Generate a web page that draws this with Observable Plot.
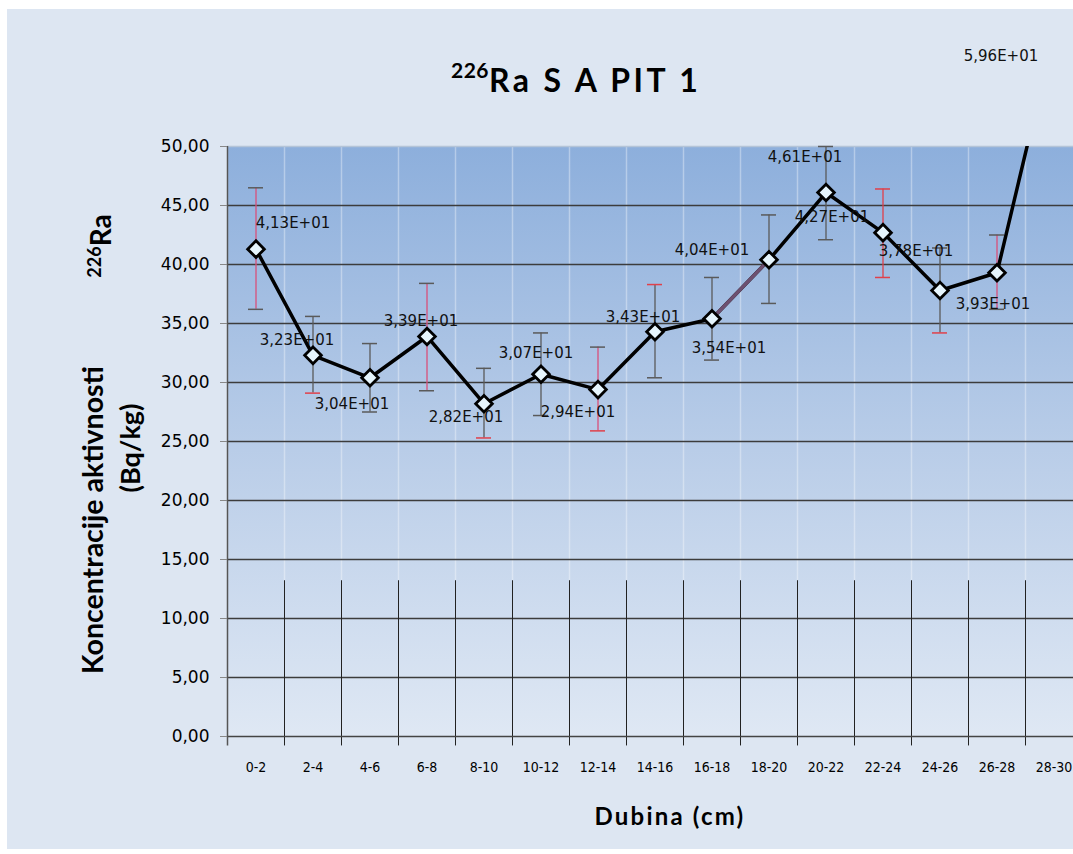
<!DOCTYPE html>
<html><head><meta charset="utf-8">
<script src="https://cdn.jsdelivr.net/npm/d3@7"></script>
<script src="https://cdn.jsdelivr.net/npm/@observablehq/plot@0.6"></script>
<style>
body{margin:0;background:#fff;}
#wrap{position:relative;width:1073px;height:854px;overflow:hidden;}
#bg{position:absolute;left:7px;top:9px;right:0;bottom:5px;background:#dde6f2;}
#chart{position:absolute;left:0;top:0;}
.rot{position:absolute;transform:translate(-50%,-50%) rotate(-90deg);white-space:nowrap;font-family:Lato,"Open Sans",sans-serif;font-weight:bold;color:#000;line-height:1;}
</style></head>
<body>
<div id="wrap">
<div id="bg"></div>
<div id="chart"></div>
<div id="title" style="position:absolute;left:451px;top:64px;font-family:Lato,sans-serif;font-weight:bold;white-space:nowrap;line-height:1;"><span style="font-size:21px;position:relative;top:-14px;letter-spacing:0.5px;">226</span><span style="font-size:32px;letter-spacing:3.4px;">Ra S A PIT 1</span></div>
<div class="rot" style="left:100px;top:246px;"><span style="font-size:18px;position:relative;top:-10px;">226</span><span style="font-size:28px;">Ra</span></div>
<div class="rot" style="left:92px;top:520px;font-size:28.5px;">Koncentracije aktivnosti</div>
<div class="rot" style="left:129px;top:448px;font-size:27px;">(Bq/kg)</div>
<div id="xlabel" style="position:absolute;left:670px;top:815px;transform:translate(-50%,-50%);font-family:Lato,sans-serif;font-weight:bold;font-size:24px;letter-spacing:2.2px;white-space:nowrap;">Dubina (cm)</div>
</div>
<script>
const categories = ["0-2","2-4","4-6","6-8","8-10","10-12","12-14","14-16","16-18","18-20","20-22","22-24","24-26","26-28","28-30"];
const values = [41.3, 32.3, 30.4, 33.9, 28.2, 30.7, 29.4, 34.3, 35.4, 40.4, 46.1, 42.7, 37.8, 39.3, 59.6];
const valueLabels = ["4,13E+01","3,23E+01","3,04E+01","3,39E+01","2,82E+01","3,07E+01","2,94E+01","3,43E+01","3,54E+01","4,04E+01","4,61E+01","4,27E+01","3,78E+01","3,93E+01","5,96E+01"];
const errLow = [36.2, 29.1, 27.5, 29.3, 25.3, 27.2, 25.9, 30.4, 31.9, 36.7, 42.1, 38.9, 34.2, 36.2, null];
const errHigh = [46.5, 35.6, 33.3, 38.4, 31.2, 34.2, 33.0, 38.3, 38.9, 44.2, 50.0, 46.4, 41.4, 42.5, null];
const yTicks = [0, 5, 10, 15, 20, 25, 30, 35, 40, 45, 50];

// styling (not data)
const GRAY = "#5a5a5a", RED = "#e0404a", PINK = "#d9507a";
const stemColor = [PINK, GRAY, GRAY, PINK, GRAY, GRAY, PINK, GRAY, GRAY, GRAY, GRAY, RED, GRAY, PINK, GRAY];
const loCapColor = [GRAY, RED, GRAY, GRAY, RED, GRAY, RED, GRAY, GRAY, GRAY, GRAY, RED, RED, GRAY, GRAY];
const hiCapColor = [GRAY, GRAY, GRAY, GRAY, GRAY, GRAY, GRAY, RED, GRAY, GRAY, GRAY, RED, GRAY, GRAY, GRAY];
const labelOffset = [[37,-26],[-16,-15],[-18,26],[-6,-15],[-18,13],[-5,-21],[-20,23],[-12,-15],[17,29],[-57,-10],[-21,-35],[-51,-15],[-24,-39],[-4,31],[-53,23]];

const data = categories.map((c, i) => ({cat: c, i, value: values[i], lo: errLow[i], hi: errHigh[i], label: valueLabels[i]}));
const withErr = data.filter(d => d.lo != null);
const half = 28.5;
const fmt = d => d.toFixed(2).replace(".", ",");

const labelMarks = data.map((d, i) => Plot.text([d], {
  x: "cat", y: "value", text: "label",
  dx: labelOffset[i][0], dy: labelOffset[i][1],
  fontSize: 15, fontFamily: "DejaVu Sans", fill: "#111"
}));

const svg = Plot.plot({
  width: 1073, height: 854,
  marginTop: 146, marginBottom: 118, marginLeft: 227, marginRight: 0,
  style: {background: "transparent", fontFamily: "DejaVu Sans", overflow: "visible"},
  x: {domain: categories, range: [227, 1082], padding: 0, axis: null},
  y: {domain: [0, 50], axis: null},
  marks: [
    Plot.frame({fill: "url(#pbg)", stroke: null}),
    Plot.ruleX(categories, {y1: 13.2, y2: 50, dx: -half, stroke: "#ffffff", strokeOpacity: 0.35, strokeWidth: 1.5}),
    Plot.ruleY(yTicks.filter(v => v > 0 && v < 50), {stroke: "#3c3c3c", strokeWidth: 1.5}),
    Plot.ruleY([50], {stroke: "#b4c4d8", strokeWidth: 1.5}),
    Plot.ruleX(categories.slice(1), {y1: -0.8, y2: 13.2, dx: -half, stroke: "#222", strokeWidth: 1}),
    Plot.ruleY([0], {stroke: "#444", strokeWidth: 1.5}),
    Plot.ruleX([categories[0]], {y1: -0.8, y2: 50, dx: -half, stroke: "#555", strokeWidth: 1.5}),
    Plot.axisY({ticks: yTicks, tickFormat: fmt, tickSize: 7, tickPadding: 11, fontSize: 17, fontFamily: "DejaVu Sans", stroke: "#888", label: null}),
    Plot.axisX({tickSize: 0, tickPadding: 26, fontSize: 14, fontFamily: "DejaVu Sans Condensed, Liberation Sans Narrow, Liberation Sans, sans-serif", label: null}),
    Plot.ruleX(withErr, {x: "cat", y1: "lo", y2: "hi", stroke: d => stemColor[d.i], strokeWidth: 1.3}),
    Plot.tickY(withErr, {x: "cat", y: "lo", inset: 21, stroke: d => loCapColor[d.i], strokeWidth: 1.5}),
    Plot.tickY(withErr, {x: "cat", y: "hi", inset: 21, stroke: d => hiCapColor[d.i], strokeWidth: 1.5}),
    Plot.line(data, {x: "cat", y: "value", stroke: "#000", strokeWidth: 3.5, clip: true}),
    Plot.line(data.slice(8, 10), {x: "cat", y: "value", stroke: "#6d5070", strokeWidth: 3.5, clip: true}),
    Plot.dot(data, {x: "cat", y: "value", symbol: "diamond2", r: 7.5, fill: "#e6f5fd", stroke: "#000", strokeWidth: 2.8, clip: true}),
    ...labelMarks
  ]
});

const defs = d3.select(svg).insert("defs", ":first-child");
const g = defs.append("linearGradient").attr("id", "pbg").attr("x1", 0).attr("y1", 0).attr("x2", 0).attr("y2", 1);
g.append("stop").attr("offset", 0).attr("stop-color", "#8dafdc");
g.append("stop").attr("offset", 0.55).attr("stop-color", "#bccfe9");
g.append("stop").attr("offset", 1).attr("stop-color", "#dfe8f4");
document.getElementById("chart").appendChild(svg);
</script>
</body></html>
